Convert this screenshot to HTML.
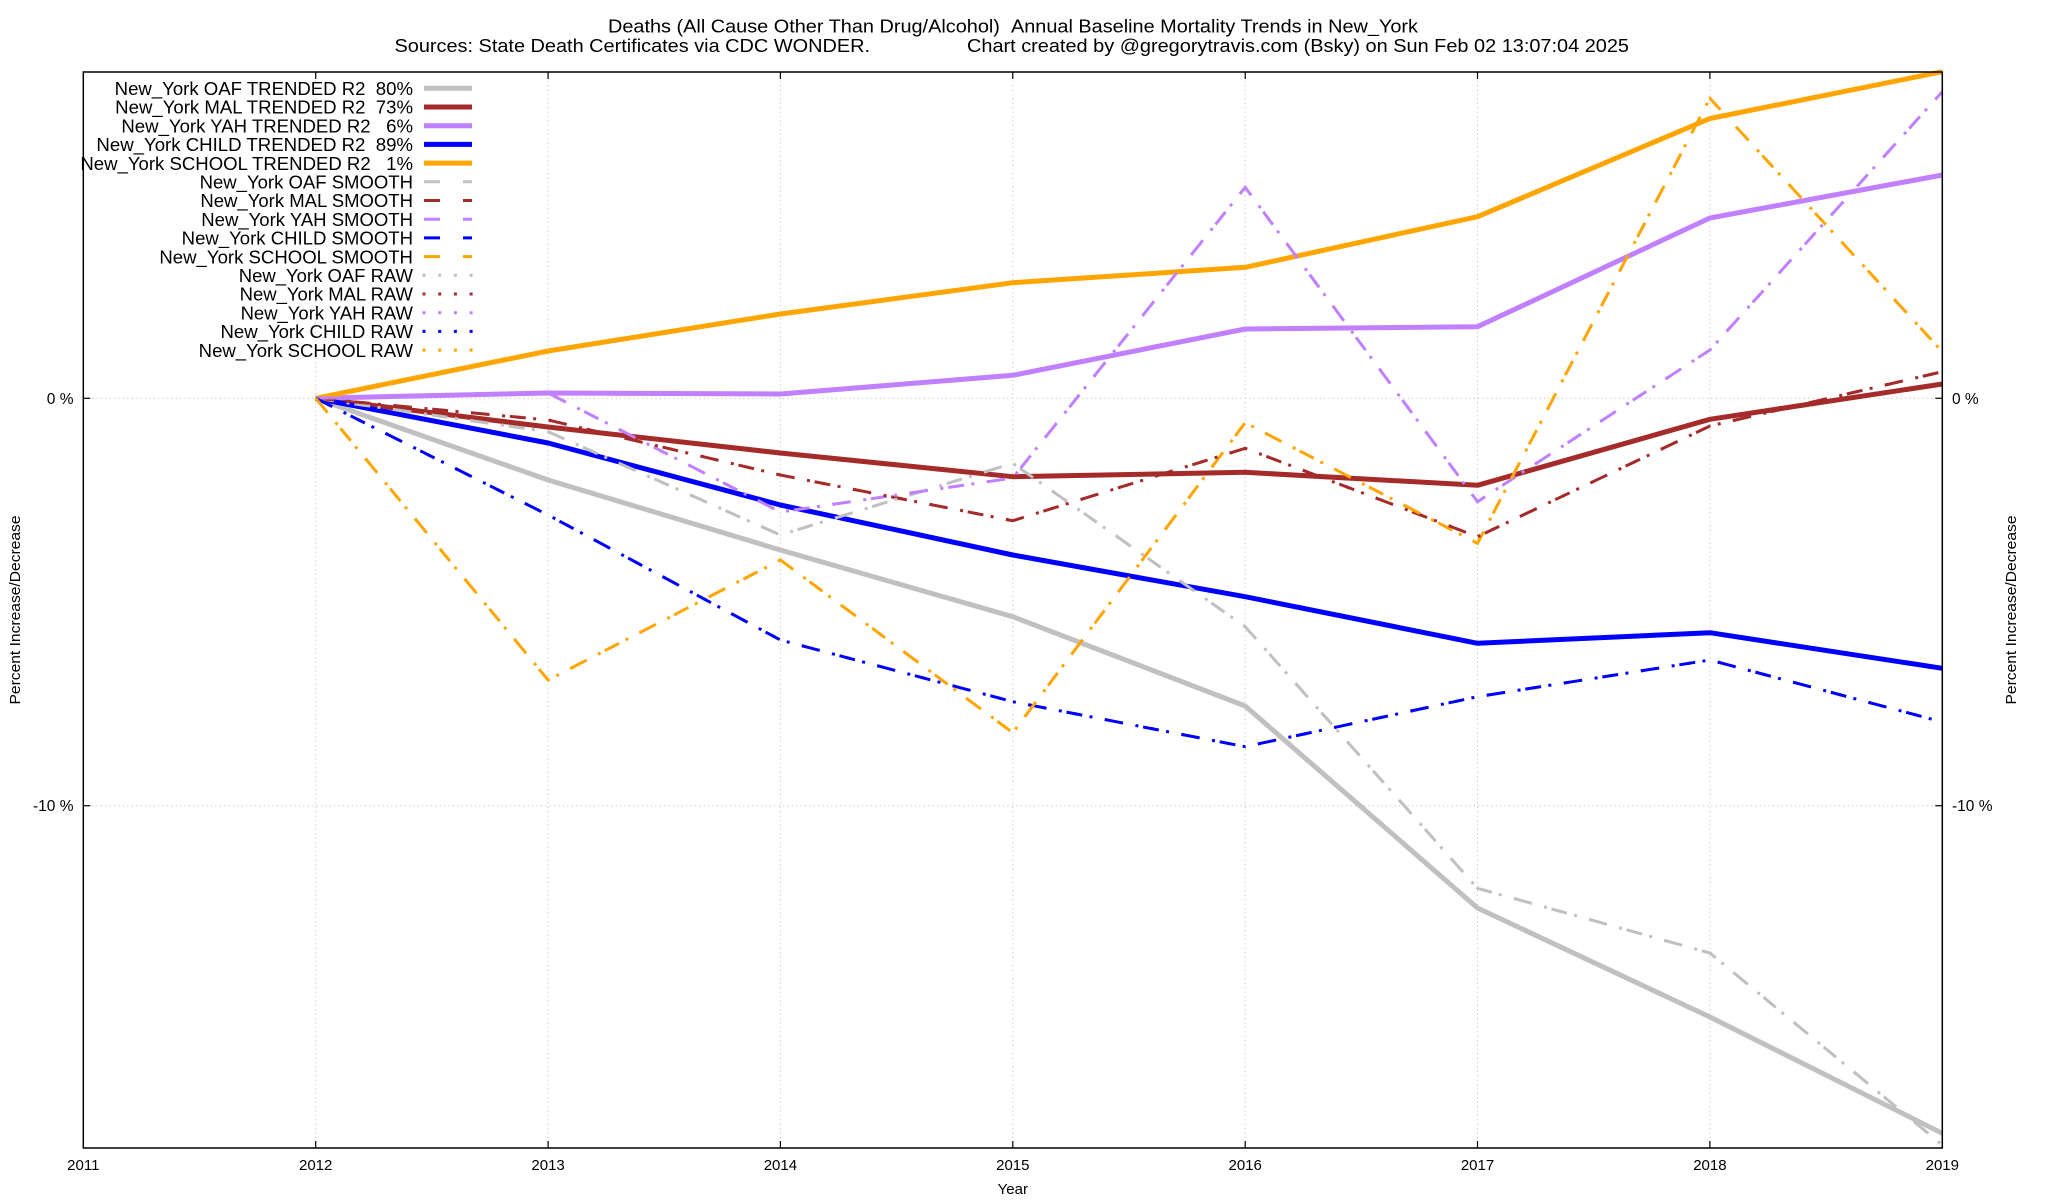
<!DOCTYPE html>
<html>
<head>
<meta charset="utf-8">
<style>
html,body{margin:0;padding:0;background:#fff;}
svg{display:block;}
text{font-family:"Liberation Sans",Arial,sans-serif;fill:#000;}
</style>
</head>
<body>
<svg width="2048" height="1200" viewBox="0 0 2048 1200" xmlns="http://www.w3.org/2000/svg">
<rect width="2048" height="1200" fill="#fff"/>

<!-- Title -->
<text x="608" y="32.3" font-size="18.3" textLength="810" lengthAdjust="spacingAndGlyphs">Deaths (All Cause Other Than Drug/Alcohol)&#160;&#160;Annual Baseline Mortality Trends in New_York</text>
<text x="394.5" y="52" font-size="18.3" textLength="475.5" lengthAdjust="spacingAndGlyphs">Sources: State Death Certificates via CDC WONDER.</text>
<text x="967" y="52" font-size="18.3" textLength="662" lengthAdjust="spacingAndGlyphs">Chart created by @gregorytravis.com (Bsky) on Sun Feb 02 13:07:04 2025</text>

<!-- Grid -->
<g stroke="#c4c4c4" stroke-width="1" stroke-dasharray="1.2 3.2" fill="none">
  <line x1="315.7" y1="72" x2="315.7" y2="1148"/>
  <line x1="548.1" y1="72" x2="548.1" y2="1148"/>
  <line x1="780.4" y1="72" x2="780.4" y2="1148"/>
  <line x1="1012.8" y1="72" x2="1012.8" y2="1148"/>
  <line x1="1245.2" y1="72" x2="1245.2" y2="1148"/>
  <line x1="1477.5" y1="72" x2="1477.5" y2="1148"/>
  <line x1="1709.9" y1="72" x2="1709.9" y2="1148"/>
  <line x1="83.3" y1="398.3" x2="1942.3" y2="398.3"/>
  <line x1="83.3" y1="805.7" x2="1942.3" y2="805.7"/>
</g>

<!-- Ticks -->
<g stroke="#000" stroke-width="1.2">
  <line x1="315.7" y1="1148" x2="315.7" y2="1141"/>
  <line x1="548.1" y1="1148" x2="548.1" y2="1141"/>
  <line x1="780.4" y1="1148" x2="780.4" y2="1141"/>
  <line x1="1012.8" y1="1148" x2="1012.8" y2="1141"/>
  <line x1="1245.2" y1="1148" x2="1245.2" y2="1141"/>
  <line x1="1477.5" y1="1148" x2="1477.5" y2="1141"/>
  <line x1="1709.9" y1="1148" x2="1709.9" y2="1141"/>
  <line x1="315.7" y1="72" x2="315.7" y2="79"/>
  <line x1="548.1" y1="72" x2="548.1" y2="79"/>
  <line x1="780.4" y1="72" x2="780.4" y2="79"/>
  <line x1="1012.8" y1="72" x2="1012.8" y2="79"/>
  <line x1="1245.2" y1="72" x2="1245.2" y2="79"/>
  <line x1="1477.5" y1="72" x2="1477.5" y2="79"/>
  <line x1="1709.9" y1="72" x2="1709.9" y2="79"/>
  <line x1="83.3" y1="398.3" x2="90.3" y2="398.3"/>
  <line x1="83.3" y1="805.7" x2="90.3" y2="805.7"/>
  <line x1="1942.3" y1="398.3" x2="1935.3" y2="398.3"/>
  <line x1="1942.3" y1="805.7" x2="1935.3" y2="805.7"/>
</g>

<!-- Data: trended (thick) -->
<g fill="none" stroke-width="5" stroke-linejoin="round" stroke-linecap="butt">
  <polyline stroke="#c0c0c0" points="315.7,398.3 548.1,480 780.4,550 1012.8,616.7 1245.2,706 1477.5,908 1709.9,1017 1942.3,1133.3"/>
  <polyline stroke="#a52a2a" points="315.7,398.3 548.1,427 780.4,453 1012.8,476.7 1245.2,472.3 1477.5,485.3 1709.9,419.3 1942.3,384"/>
  <polyline stroke="#c080ff" points="315.7,398.3 548.1,393 780.4,394 1012.8,375.3 1245.2,329 1477.5,326.7 1709.9,218 1942.3,175"/>
  <polyline stroke="#0000ff" points="315.7,398.3 548.1,443 780.4,505 1012.8,555 1245.2,596.7 1477.5,643.3 1709.9,632.7 1942.3,668.3"/>
  <polyline stroke="#ffa500" points="315.7,398.3 548.1,351 780.4,314 1012.8,282.7 1245.2,267.3 1477.5,216.7 1709.9,118.5 1942.3,71.7"/>
</g>

<!-- Data: smooth (dashed) -->
<g fill="none" stroke-width="3" stroke-dasharray="16 23" stroke-linejoin="miter">
  <polyline stroke="#c0c0c0" points="315.7,398.3 548.1,431.7 780.4,535 1012.8,463.3 1245.2,626.7 1477.5,888.3 1709.9,953 1942.3,1145"/>
  <polyline stroke="#a52a2a" points="315.7,398.3 548.1,420 780.4,475 1012.8,520.7 1245.2,448.3 1477.5,536.7 1709.9,426 1942.3,371.7"/>
  <polyline stroke="#c080ff" points="315.7,398.3 548.1,393 780.4,512 1012.8,478 1245.2,187.3 1477.5,501.7 1709.9,350 1942.3,91.7"/>
  <polyline stroke="#0000ff" points="315.7,398.3 548.1,515 780.4,640 1012.8,701.7 1245.2,746.7 1477.5,696.7 1709.9,660 1942.3,722"/>
  <polyline stroke="#ffa500" points="315.7,398.3 548.1,680 780.4,560 1012.8,732.7 1245.2,422.7 1477.5,543.3 1709.9,98.3 1942.3,351.7"/>
</g>

<!-- Data: raw (dotted) -->
<g fill="none" stroke-width="3" stroke-dasharray="3 12.6" stroke-linejoin="miter">
  <polyline stroke="#c0c0c0" points="315.7,398.3 548.1,431.7 780.4,535 1012.8,463.3 1245.2,626.7 1477.5,888.3 1709.9,953 1942.3,1145"/>
  <polyline stroke="#a52a2a" points="315.7,398.3 548.1,420 780.4,475 1012.8,520.7 1245.2,448.3 1477.5,536.7 1709.9,426 1942.3,371.7"/>
  <polyline stroke="#c080ff" points="315.7,398.3 548.1,393 780.4,512 1012.8,478 1245.2,187.3 1477.5,501.7 1709.9,350 1942.3,91.7"/>
  <polyline stroke="#0000ff" points="315.7,398.3 548.1,515 780.4,640 1012.8,701.7 1245.2,746.7 1477.5,696.7 1709.9,660 1942.3,722"/>
  <polyline stroke="#ffa500" points="315.7,398.3 548.1,680 780.4,560 1012.8,732.7 1245.2,422.7 1477.5,543.3 1709.9,98.3 1942.3,351.7"/>
</g>

<!-- Border -->
<rect x="83.3" y="72" width="1859" height="1076" fill="none" stroke="#000" stroke-width="1.5"/>

<!-- Axis tick labels -->
<g font-size="15" text-anchor="middle">
  <text x="83.3" y="1170">2011</text>
  <text x="315.7" y="1170">2012</text>
  <text x="548.1" y="1170">2013</text>
  <text x="780.4" y="1170">2014</text>
  <text x="1012.8" y="1170">2015</text>
  <text x="1245.2" y="1170">2016</text>
  <text x="1477.5" y="1170">2017</text>
  <text x="1709.9" y="1170">2018</text>
  <text x="1942.3" y="1170">2019</text>
  <text x="1012.8" y="1194">Year</text>
</g>
<g font-size="15.5">
  <text x="73.5" y="403.8" text-anchor="end">0&#160;%</text>
  <text x="73.5" y="811.2" text-anchor="end">-10&#160;%</text>
  <text x="1952" y="403.8">0&#160;%</text>
  <text x="1952" y="811.2">-10&#160;%</text>
</g>
<text font-size="15" text-anchor="middle" dominant-baseline="middle" textLength="189" lengthAdjust="spacingAndGlyphs" transform="translate(16,610) rotate(-90)" x="0" y="0">Percent Increase/Decrease</text>
<text font-size="15" text-anchor="middle" dominant-baseline="middle" textLength="189" lengthAdjust="spacingAndGlyphs" transform="translate(2012,610) rotate(-90)" x="0" y="0">Percent Increase/Decrease</text>

<!-- Legend -->
<g font-size="18.3">
  <text x="114.7" y="95" textLength="298.3" lengthAdjust="spacingAndGlyphs">New_York OAF TRENDED R2&#160;&#160;80%</text>
  <text x="115.2" y="113.7" textLength="297.8" lengthAdjust="spacingAndGlyphs">New_York MAL TRENDED R2&#160;&#160;73%</text>
  <text x="121.4" y="132.4" textLength="291.6" lengthAdjust="spacingAndGlyphs">New_York YAH TRENDED R2&#160;&#160;&#160;6%</text>
  <text x="96.4" y="151.1" textLength="316.6" lengthAdjust="spacingAndGlyphs">New_York CHILD TRENDED R2&#160;&#160;89%</text>
  <text x="80.4" y="169.8" textLength="332.6" lengthAdjust="spacingAndGlyphs">New_York SCHOOL TRENDED R2&#160;&#160;&#160;1%</text>
  <text x="199.6" y="188.5" textLength="213.4" lengthAdjust="spacingAndGlyphs">New_York OAF SMOOTH</text>
  <text x="200.4" y="207.2" textLength="212.6" lengthAdjust="spacingAndGlyphs">New_York MAL SMOOTH</text>
  <text x="201.3" y="225.9" textLength="211.7" lengthAdjust="spacingAndGlyphs">New_York YAH SMOOTH</text>
  <text x="181.7" y="244.6" textLength="231.3" lengthAdjust="spacingAndGlyphs">New_York CHILD SMOOTH</text>
  <text x="159.4" y="263.3" textLength="253.6" lengthAdjust="spacingAndGlyphs">New_York SCHOOL SMOOTH</text>
  <text x="238.8" y="282" textLength="174.2" lengthAdjust="spacingAndGlyphs">New_York OAF RAW</text>
  <text x="239.7" y="300.7" textLength="173.3" lengthAdjust="spacingAndGlyphs">New_York MAL RAW</text>
  <text x="240.6" y="319.4" textLength="172.4" lengthAdjust="spacingAndGlyphs">New_York YAH RAW</text>
  <text x="220.5" y="338.1" textLength="192.5" lengthAdjust="spacingAndGlyphs">New_York CHILD RAW</text>
  <text x="198.7" y="356.8" textLength="214.3" lengthAdjust="spacingAndGlyphs">New_York SCHOOL RAW</text>
</g>
<g fill="none">
  <g stroke-width="5">
    <line x1="424" y1="88.3" x2="472" y2="88.3" stroke="#c0c0c0"/>
    <line x1="424" y1="107" x2="472" y2="107" stroke="#a52a2a"/>
    <line x1="424" y1="125.7" x2="472" y2="125.7" stroke="#c080ff"/>
    <line x1="424" y1="144.4" x2="472" y2="144.4" stroke="#0000ff"/>
    <line x1="424" y1="163.1" x2="472" y2="163.1" stroke="#ffa500"/>
  </g>
  <g stroke-width="3" stroke-dasharray="16 23">
    <line x1="424" y1="181.8" x2="472" y2="181.8" stroke="#c0c0c0"/>
    <line x1="424" y1="200.5" x2="472" y2="200.5" stroke="#a52a2a"/>
    <line x1="424" y1="219.2" x2="472" y2="219.2" stroke="#c080ff"/>
    <line x1="424" y1="237.9" x2="472" y2="237.9" stroke="#0000ff"/>
    <line x1="424" y1="256.6" x2="472" y2="256.6" stroke="#ffa500"/>
  </g>
  <g stroke-width="3" stroke-dasharray="3 12.7">
    <line x1="422.5" y1="275.3" x2="473" y2="275.3" stroke="#c0c0c0"/>
    <line x1="422.5" y1="294" x2="473" y2="294" stroke="#a52a2a"/>
    <line x1="422.5" y1="312.7" x2="473" y2="312.7" stroke="#c080ff"/>
    <line x1="422.5" y1="331.4" x2="473" y2="331.4" stroke="#0000ff"/>
    <line x1="422.5" y1="350.1" x2="473" y2="350.1" stroke="#ffa500"/>
  </g>
</g>
</svg>
</body>
</html>
